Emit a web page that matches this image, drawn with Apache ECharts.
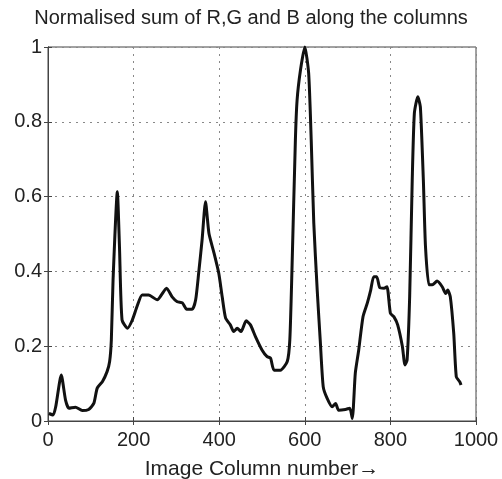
<!DOCTYPE html>
<html><head><meta charset="utf-8">
<script src="https://cdn.jsdelivr.net/npm/echarts@6/dist/echarts.min.js"></script>
<style>html,body{margin:0;padding:0;background:#fff}#c{width:502px;height:479px}</style>
</head><body><div id="c"></div>
<script>
const columns = [2,12,18,31,41,49,64,80,95,107,115,127,138,144,148,152,162,167,173,186,197,208,220,235,255,277,290,302,314,324,337,345,352,360,368,376,387,399,407,415,426,434,442,451,463,473,485,500,512,520,528,543,559,565,570,578,582,590,600,609,615,621,629,636,643,652,664,672,679,695,705,711,718,726,736,746,754,761,768,775,785,792,800,808,817,828,834,839,845,851,856,864,870,877,882,890,898,909,921,929,934,940,948,954,962,965];
const normSum = [0.02,0.016,0.038,0.123,0.056,0.034,0.037,0.028,0.031,0.047,0.088,0.105,0.132,0.159,0.217,0.377,0.613,0.466,0.27,0.248,0.27,0.306,0.337,0.337,0.324,0.355,0.332,0.319,0.316,0.299,0.299,0.324,0.395,0.484,0.586,0.502,0.453,0.395,0.332,0.275,0.257,0.239,0.248,0.239,0.268,0.257,0.225,0.19,0.172,0.168,0.136,0.136,0.159,0.217,0.404,0.751,0.858,0.939,1.0,0.93,0.751,0.529,0.35,0.217,0.092,0.061,0.038,0.047,0.029,0.031,0.034,0.007,0.128,0.19,0.279,0.315,0.35,0.386,0.386,0.357,0.355,0.359,0.288,0.279,0.257,0.199,0.15,0.163,0.332,0.644,0.823,0.867,0.84,0.644,0.466,0.364,0.364,0.374,0.359,0.341,0.35,0.332,0.234,0.118,0.105,0.096];
const xTicks = [0,200,400,600,800,1000];
const yTicks = [0,0.2,0.4,0.6,0.8,1];
const titleText = 'Normalised sum of R,G and B along the columns';
const xName = 'Image Column number\u2192';

const chart = echarts.init(document.getElementById('c'), null, {renderer:'canvas'});
const font = 'Liberation Sans, Arial, sans-serif';
const tc = '#222';
const ax = '#444';
const grid = {lineStyle:{type:[2,5],color:'#888',width:1}};
chart.setOption({
  animation:false,
  backgroundColor:'#fff',
  title:{text:titleText,left:'center',top:3,textStyle:{fontFamily:font,fontSize:20,fontWeight:'normal',color:tc}},
  grid:{left:48,right:26,top:47,bottom:58,show:true,borderColor:ax,borderWidth:1,containLabel:false,outerBoundsMode:'none'},
  xAxis:[{type:'value',min:0,max:1000,interval:200,
    name:xName,nameLocation:'middle',nameGap:38,
    nameTextStyle:{fontFamily:font,fontSize:21,color:tc},
    axisLine:{show:true,lineStyle:{color:ax}},
    axisTick:{show:true,inside:true,length:4,lineStyle:{color:ax}},
    axisLabel:{fontFamily:font,fontSize:20,color:tc,margin:9,formatter:v=>xTicks.includes(v)?String(v):''},
    splitLine:Object.assign({show:true},grid)},
   {type:'value',position:'top',min:0,max:1000,interval:200,
    axisLine:{show:true,lineStyle:{color:ax}},
    axisTick:{show:true,inside:true,length:4,lineStyle:{color:ax}},
    axisLabel:{show:false},splitLine:{show:false}}],
  yAxis:[{type:'value',min:0,max:1,interval:0.2,
    axisLine:{show:true,lineStyle:{color:ax}},
    axisTick:{show:true,inside:true,length:4,lineStyle:{color:ax}},
    axisLabel:{fontFamily:font,fontSize:20,color:tc,margin:6,formatter:v=>{const t=yTicks.find(a=>Math.abs(a-v)<1e-6);return t===undefined?'':String(+t.toFixed(1));}},
    splitLine:Object.assign({show:true},grid)},
   {type:'value',position:'right',min:0,max:1,interval:0.2,
    axisLine:{show:true,lineStyle:{color:ax}},
    axisTick:{show:true,inside:true,length:4,lineStyle:{color:ax}},
    axisLabel:{show:false},splitLine:{show:false}}],
  series:[{type:'line',xAxisIndex:0,yAxisIndex:0,data:columns.map((c,i)=>[c,normSum[i]]),showSymbol:false,smooth:0.2,
    lineStyle:{color:'#111',width:3},clip:false}]
});
</script></body></html>
